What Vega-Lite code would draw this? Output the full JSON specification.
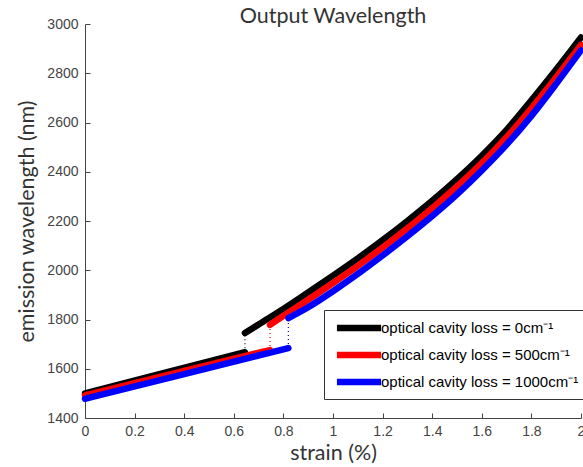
{
  "$schema": "https://vega.github.io/schema/vega-lite/v6.json",
  "width": 496,
  "height": 394,
  "autosize": "none",
  "padding": {"left": 85, "top": 24, "right": 2, "bottom": 49},
  "background": "white",
  "title": {"text": "Output Wavelength", "font": "Lato", "fontSize": 21.5, "fontWeight": "normal", "color": "#333333", "anchor": "middle", "offset": -10},
  "config": {"view": {"stroke": null}},
  "data": {"values": [
    {"loss": "optical cavity loss = 0cm⁻¹", "br": "lo", "x": 0, "y": 1500},
    {"loss": "optical cavity loss = 0cm⁻¹", "br": "lo", "x": 0.3, "y": 1578},
    {"loss": "optical cavity loss = 0cm⁻¹", "br": "lo", "x": 0.645, "y": 1667},
    {"loss": "optical cavity loss = 0cm⁻¹", "br": "up", "x": 0.645, "y": 1745},
    {"loss": "optical cavity loss = 0cm⁻¹", "br": "up", "x": 0.7, "y": 1780},
    {"loss": "optical cavity loss = 0cm⁻¹", "br": "up", "x": 0.8, "y": 1843},
    {"loss": "optical cavity loss = 0cm⁻¹", "br": "up", "x": 0.9, "y": 1910},
    {"loss": "optical cavity loss = 0cm⁻¹", "br": "up", "x": 1.0, "y": 1978},
    {"loss": "optical cavity loss = 0cm⁻¹", "br": "up", "x": 1.1, "y": 2048},
    {"loss": "optical cavity loss = 0cm⁻¹", "br": "up", "x": 1.2, "y": 2122},
    {"loss": "optical cavity loss = 0cm⁻¹", "br": "up", "x": 1.3, "y": 2200},
    {"loss": "optical cavity loss = 0cm⁻¹", "br": "up", "x": 1.4, "y": 2282},
    {"loss": "optical cavity loss = 0cm⁻¹", "br": "up", "x": 1.5, "y": 2370},
    {"loss": "optical cavity loss = 0cm⁻¹", "br": "up", "x": 1.6, "y": 2465},
    {"loss": "optical cavity loss = 0cm⁻¹", "br": "up", "x": 1.7, "y": 2570},
    {"loss": "optical cavity loss = 0cm⁻¹", "br": "up", "x": 1.8, "y": 2690},
    {"loss": "optical cavity loss = 0cm⁻¹", "br": "up", "x": 1.9, "y": 2815},
    {"loss": "optical cavity loss = 0cm⁻¹", "br": "up", "x": 2.0, "y": 2945},
    {"loss": "optical cavity loss = 0cm⁻¹", "br": "jump", "x": 0.645, "y": 1667},
    {"loss": "optical cavity loss = 0cm⁻¹", "br": "jump", "x": 0.645, "y": 1745},

    {"loss": "optical cavity loss = 500cm⁻¹", "br": "lo", "x": 0, "y": 1492},
    {"loss": "optical cavity loss = 500cm⁻¹", "br": "lo", "x": 0.4, "y": 1591},
    {"loss": "optical cavity loss = 500cm⁻¹", "br": "lo", "x": 0.746, "y": 1676},
    {"loss": "optical cavity loss = 500cm⁻¹", "br": "up", "x": 0.746, "y": 1778},
    {"loss": "optical cavity loss = 500cm⁻¹", "br": "up", "x": 0.8, "y": 1815},
    {"loss": "optical cavity loss = 500cm⁻¹", "br": "up", "x": 0.9, "y": 1880},
    {"loss": "optical cavity loss = 500cm⁻¹", "br": "up", "x": 1.0, "y": 1948},
    {"loss": "optical cavity loss = 500cm⁻¹", "br": "up", "x": 1.1, "y": 2018},
    {"loss": "optical cavity loss = 500cm⁻¹", "br": "up", "x": 1.2, "y": 2092},
    {"loss": "optical cavity loss = 500cm⁻¹", "br": "up", "x": 1.3, "y": 2170},
    {"loss": "optical cavity loss = 500cm⁻¹", "br": "up", "x": 1.4, "y": 2252},
    {"loss": "optical cavity loss = 500cm⁻¹", "br": "up", "x": 1.5, "y": 2340},
    {"loss": "optical cavity loss = 500cm⁻¹", "br": "up", "x": 1.6, "y": 2435},
    {"loss": "optical cavity loss = 500cm⁻¹", "br": "up", "x": 1.7, "y": 2540},
    {"loss": "optical cavity loss = 500cm⁻¹", "br": "up", "x": 1.8, "y": 2658},
    {"loss": "optical cavity loss = 500cm⁻¹", "br": "up", "x": 1.9, "y": 2784},
    {"loss": "optical cavity loss = 500cm⁻¹", "br": "up", "x": 2.0, "y": 2915},
    {"loss": "optical cavity loss = 500cm⁻¹", "br": "jump", "x": 0.746, "y": 1676},
    {"loss": "optical cavity loss = 500cm⁻¹", "br": "jump", "x": 0.746, "y": 1778},

    {"loss": "optical cavity loss = 1000cm⁻¹", "br": "lo", "x": 0, "y": 1478},
    {"loss": "optical cavity loss = 1000cm⁻¹", "br": "lo", "x": 0.4, "y": 1578},
    {"loss": "optical cavity loss = 1000cm⁻¹", "br": "lo", "x": 0.82, "y": 1684},
    {"loss": "optical cavity loss = 1000cm⁻¹", "br": "up", "x": 0.82, "y": 1806},
    {"loss": "optical cavity loss = 1000cm⁻¹", "br": "up", "x": 0.9, "y": 1850},
    {"loss": "optical cavity loss = 1000cm⁻¹", "br": "up", "x": 1.0, "y": 1915},
    {"loss": "optical cavity loss = 1000cm⁻¹", "br": "up", "x": 1.1, "y": 1985},
    {"loss": "optical cavity loss = 1000cm⁻¹", "br": "up", "x": 1.2, "y": 2060},
    {"loss": "optical cavity loss = 1000cm⁻¹", "br": "up", "x": 1.3, "y": 2138},
    {"loss": "optical cavity loss = 1000cm⁻¹", "br": "up", "x": 1.4, "y": 2220},
    {"loss": "optical cavity loss = 1000cm⁻¹", "br": "up", "x": 1.5, "y": 2308},
    {"loss": "optical cavity loss = 1000cm⁻¹", "br": "up", "x": 1.6, "y": 2405},
    {"loss": "optical cavity loss = 1000cm⁻¹", "br": "up", "x": 1.7, "y": 2510},
    {"loss": "optical cavity loss = 1000cm⁻¹", "br": "up", "x": 1.8, "y": 2627},
    {"loss": "optical cavity loss = 1000cm⁻¹", "br": "up", "x": 1.9, "y": 2757},
    {"loss": "optical cavity loss = 1000cm⁻¹", "br": "up", "x": 2.0, "y": 2893},
    {"loss": "optical cavity loss = 1000cm⁻¹", "br": "jump", "x": 0.82, "y": 1684},
    {"loss": "optical cavity loss = 1000cm⁻¹", "br": "jump", "x": 0.82, "y": 1806}
  ]},
  "encoding": {
    "x": {"field": "x", "type": "quantitative",
      "scale": {"domain": [0, 2], "nice": false},
      "axis": {"values": [0, 0.2, 0.4, 0.6, 0.8, 1, 1.2, 1.4, 1.6, 1.8, 2], "format": "~g",
        "title": "strain (%)", "titleFont": "Lato", "titleFontSize": 21.5, "titleFontWeight": "normal", "titleColor": "#333333", "titlePadding": 4,
        "labelFont": "Liberation Sans", "labelFontSize": 14, "labelColor": "#444444", "labelPadding": 11,
        "tickSize": -5, "tickColor": "#444444", "domainColor": "#444444", "grid": false, "labelFlush": false, "labelOverlap": false}},
    "y": {"field": "y", "type": "quantitative",
      "scale": {"domain": [1400, 3000], "nice": false, "zero": false},
      "axis": {"values": [1400, 1600, 1800, 2000, 2200, 2400, 2600, 2800, 3000], "format": "d",
        "title": "emission wavelength (nm)", "titleFont": "Lato", "titleFontSize": 21.5, "titleFontWeight": "normal", "titleColor": "#333333", "titlePadding": 8,
        "labelFont": "Liberation Sans", "labelFontSize": 14, "labelColor": "#444444", "labelPadding": 12,
        "tickSize": -5, "tickColor": "#444444", "domainColor": "#444444", "grid": false, "labelFlush": false, "labelOverlap": false}}
  },
  "layer": [
    {
      "transform": [{"filter": "datum.br !== 'jump'"}],
      "mark": {"type": "line", "strokeWidth": 6.5, "strokeCap": "round", "strokeJoin": "round", "interpolate": "monotone"},
      "encoding": {
        "color": {"field": "loss", "type": "nominal",
          "scale": {"domain": ["optical cavity loss = 0cm⁻¹", "optical cavity loss = 500cm⁻¹", "optical cavity loss = 1000cm⁻¹"], "range": ["#000000", "#ff0000", "#0000ff"]},
          "legend": {"title": null, "orient": "none", "legendX": 239, "legendY": 286,
            "symbolType": "M-2.1,0H2.1", "symbolSize": 441, "symbolStrokeWidth": 6.5, "symbolOffset": 17,
            "labelFont": "Liberation Sans", "labelFontSize": 15, "labelColor": "#000000", "labelLimit": 300,
            "strokeColor": "#333333", "fillColor": "white", "padding": 4, "rowPadding": -1.5, "labelOffset": 8}},
        "detail": {"field": "br"},
        "order": {"field": "x", "type": "quantitative"}
      }
    },
    {
      "transform": [{"filter": "datum.br === 'jump'"}],
      "mark": {"type": "line", "strokeWidth": 1.2, "strokeDash": [1, 3]},
      "encoding": {
        "color": {"field": "loss", "type": "nominal", "legend": null},
        "detail": {"field": "loss"}
      }
    }
  ]
}
